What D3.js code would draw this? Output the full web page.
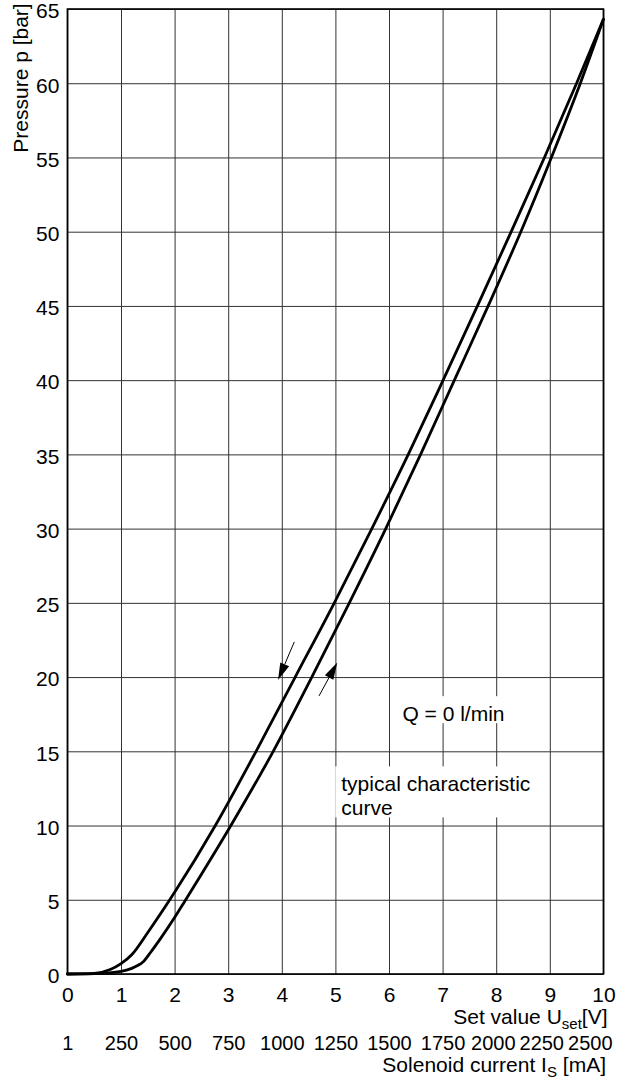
<!DOCTYPE html>
<html>
<head>
<meta charset="utf-8">
<script src="https://cdn.jsdelivr.net/npm/d3@7"></script>
<style>
  body { margin: 0; background: #fff; }
  text { font-family: "Liberation Sans", Arial, Helvetica, sans-serif; fill: #000; }
</style>
</head>
<body>
<svg id="chart" width="624" height="1080"></svg>
<script>
// ---------- data ----------
const uTicks = [0, 1, 2, 3, 4, 5, 6, 7, 8, 9, 10];
const currentLabels = ["1", "250", "500", "750", "1000", "1250", "1500", "1750", "2000", "2250", "2500"];
const pTicks = [0, 5, 10, 15, 20, 25, 30, 35, 40, 45, 50, 55, 60, 65];

// falling branch (upper/left curve)
const fallingU = [0, 0.5, 0.8, 1.0, 1.2, 1.5, 1.91, 2.0, 2.76, 3.52, 4.25, 4.98, 5.68, 6.36, 7.01, 7.65, 8.28, 8.90, 9.50, 10];
const fallingP = [0, 0.04, 0.3, 0.7, 1.3, 2.8, 5.0, 5.5, 10, 15, 20, 25, 30, 35, 40, 45, 50, 55, 60, 64.3];

// rising branch (lower/right curve)
const risingU = [0, 0.5, 1.0, 1.2, 1.3, 1.42, 1.55, 1.73, 2.0, 2.19, 3.05, 3.84, 4.56, 5.26, 5.94, 6.59, 7.22, 7.85, 8.46, 9.03, 9.57, 10];
const risingP = [0, 0.03, 0.18, 0.38, 0.55, 0.85, 1.45, 2.35, 3.8, 4.9, 10, 15, 20, 25, 30, 35, 40, 45, 50, 55, 60, 64.3];

// direction arrows (tail -> tip), in data units
const arrowTailU = [4.233, 4.694];
const arrowTailP = [22.37, 18.73];
const arrowTipU = [3.93, 5.035];
const arrowTipP = [19.8, 20.98];

// annotations
const noteU = [6.25, 5.11];
const noteP = [17.03, 12.3];
const noteLines = [["Q = 0 l/min"], ["typical characteristic", "curve"]];

(function () {
// ---------- layout ----------
const svg = d3.select("#chart");
const pL = 67.4, pR = 603.4, pT = 9, pB = 974;
const x = d3.scaleLinear().domain([0, 10]).range([pL, pR]);
const y = d3.scaleLinear().domain([0, 65]).range([pB, pT]);
const FS = 21;

// grid + U axis labels
const xAxis = svg.append("g")
  .attr("transform", `translate(0,${pB})`)
  .call(d3.axisBottom(x).tickValues(uTicks).tickFormat(d3.format("d"))
        .tickSizeInner(-(pB - pT)).tickSizeOuter(0).tickPadding(13));
xAxis.select(".domain").remove();
xAxis.selectAll(".tick line").attr("stroke", "#333").attr("stroke-width", 1);
xAxis.selectAll(".tick text").attr("font-size", FS).attr("font-family", null);

// current axis labels
const iAxis = svg.append("g")
  .attr("transform", `translate(0,${pB})`)
  .call(d3.axisBottom(x).tickValues(uTicks).tickFormat((d, i) => currentLabels[i])
        .tickSize(0).tickPadding(61.5));
iAxis.select(".domain").remove();
iAxis.selectAll(".tick text").attr("font-size", 20).attr("font-family", null);
// pack labels from the right so that they stay inside the page without touching
(function () {
  const ticks = iAxis.selectAll(".tick").nodes();
  let limit = 612;
  for (let i = ticks.length - 1; i >= 0; i--) {
    const tick = d3.select(ticks[i]);
    const txt = tick.select("text");
    const bb = txt.node().getBBox();
    const tx = x(uTicks[i]);
    const right = tx + bb.x + bb.width;
    let shift = 0;
    if (right > limit) { shift = limit - right; txt.attr("x", shift); }
    limit = tx + bb.x + shift - 4;
  }
})();

// y grid + labels
const yAxis = svg.append("g")
  .attr("transform", `translate(${pL},0)`)
  .call(d3.axisLeft(y).tickValues(pTicks).tickFormat(d3.format("d"))
        .tickSizeInner(-(pR - pL)).tickSizeOuter(0).tickPadding(8));
yAxis.select(".domain").remove();
yAxis.selectAll(".tick line").attr("stroke", "#333").attr("stroke-width", 1);
yAxis.selectAll(".tick text").attr("font-size", FS).attr("font-family", null).attr("dy", "0.42em");

// annotation texts with white boxes
const notesG = svg.append("g");
noteLines.forEach((lines, k) => {
  const g = notesG.append("g");
  const rect = g.append("rect").attr("fill", "#fff");
  const t = g.append("text").attr("font-size", FS)
    .attr("x", x(noteU[k])).attr("y", y(noteP[k]));
  lines.forEach((ln, j) => {
    t.append("tspan").attr("x", x(noteU[k])).attr("dy", j === 0 ? 0 : 24).text(ln);
  });
  const bb = t.node().getBBox();
  rect.attr("x", bb.x - 6).attr("y", bb.y - 6).attr("width", bb.width + 8).attr("height", bb.height + 4);
});

// frame
svg.append("rect")
  .attr("x", pL).attr("y", pT).attr("width", pR - pL).attr("height", pB - pT)
  .attr("fill", "none").attr("stroke", "#000").attr("stroke-width", 1.6);

// curves
const line = d3.line().x(d => x(d[0])).y(d => y(d[1])).curve(d3.curveMonotoneX);
const falling = fallingU.map((u, i) => [u, fallingP[i]]);
const rising = risingU.map((u, i) => [u, risingP[i]]);
[falling, rising].forEach(data => {
  svg.append("path").datum(data)
    .attr("d", line)
    .attr("fill", "none").attr("stroke", "#000").attr("stroke-width", 2.8)
    .attr("stroke-linejoin", "round").attr("stroke-linecap", "round");
});

// arrows
arrowTailU.forEach((u, i) => {
  const x1 = x(u), y1 = y(arrowTailP[i]);
  const x2 = x(arrowTipU[i]), y2 = y(arrowTipP[i]);
  const ang = Math.atan2(y2 - y1, x2 - x1);
  const hl = 17, hw = 4.8;
  const bx = x2 - hl * Math.cos(ang), by = y2 - hl * Math.sin(ang);
  svg.append("line").attr("x1", x1).attr("y1", y1).attr("x2", bx).attr("y2", by)
    .attr("stroke", "#000").attr("stroke-width", 1);
  const px = -Math.sin(ang) * hw, py = Math.cos(ang) * hw;
  svg.append("path")
    .attr("d", `M${x2},${y2}L${bx + px},${by + py}L${bx - px},${by - py}Z`)
    .attr("fill", "#000");
});

// axis titles
svg.append("text")
  .attr("transform", `translate(28,78) rotate(-90)`)
  .attr("text-anchor", "middle").attr("font-size", FS)
  .text("Pressure p [bar]");

const t1 = svg.append("text").attr("x", 607.5).attr("y", 1024)
  .attr("text-anchor", "end").attr("font-size", FS);
t1.append("tspan").text("Set value U");
t1.append("tspan").attr("font-size", 15).attr("dy", 5).text("set");
t1.append("tspan").attr("dy", -5).text("[V]");

const t2 = svg.append("text").attr("x", 606).attr("y", 1071.5)
  .attr("text-anchor", "end").attr("font-size", FS);
t2.append("tspan").text("Solenoid current I");
t2.append("tspan").attr("font-size", 15).attr("dy", 5).text("S");
t2.append("tspan").attr("dy", -5).text(" [mA]");
})();
</script>
</body>
</html>
